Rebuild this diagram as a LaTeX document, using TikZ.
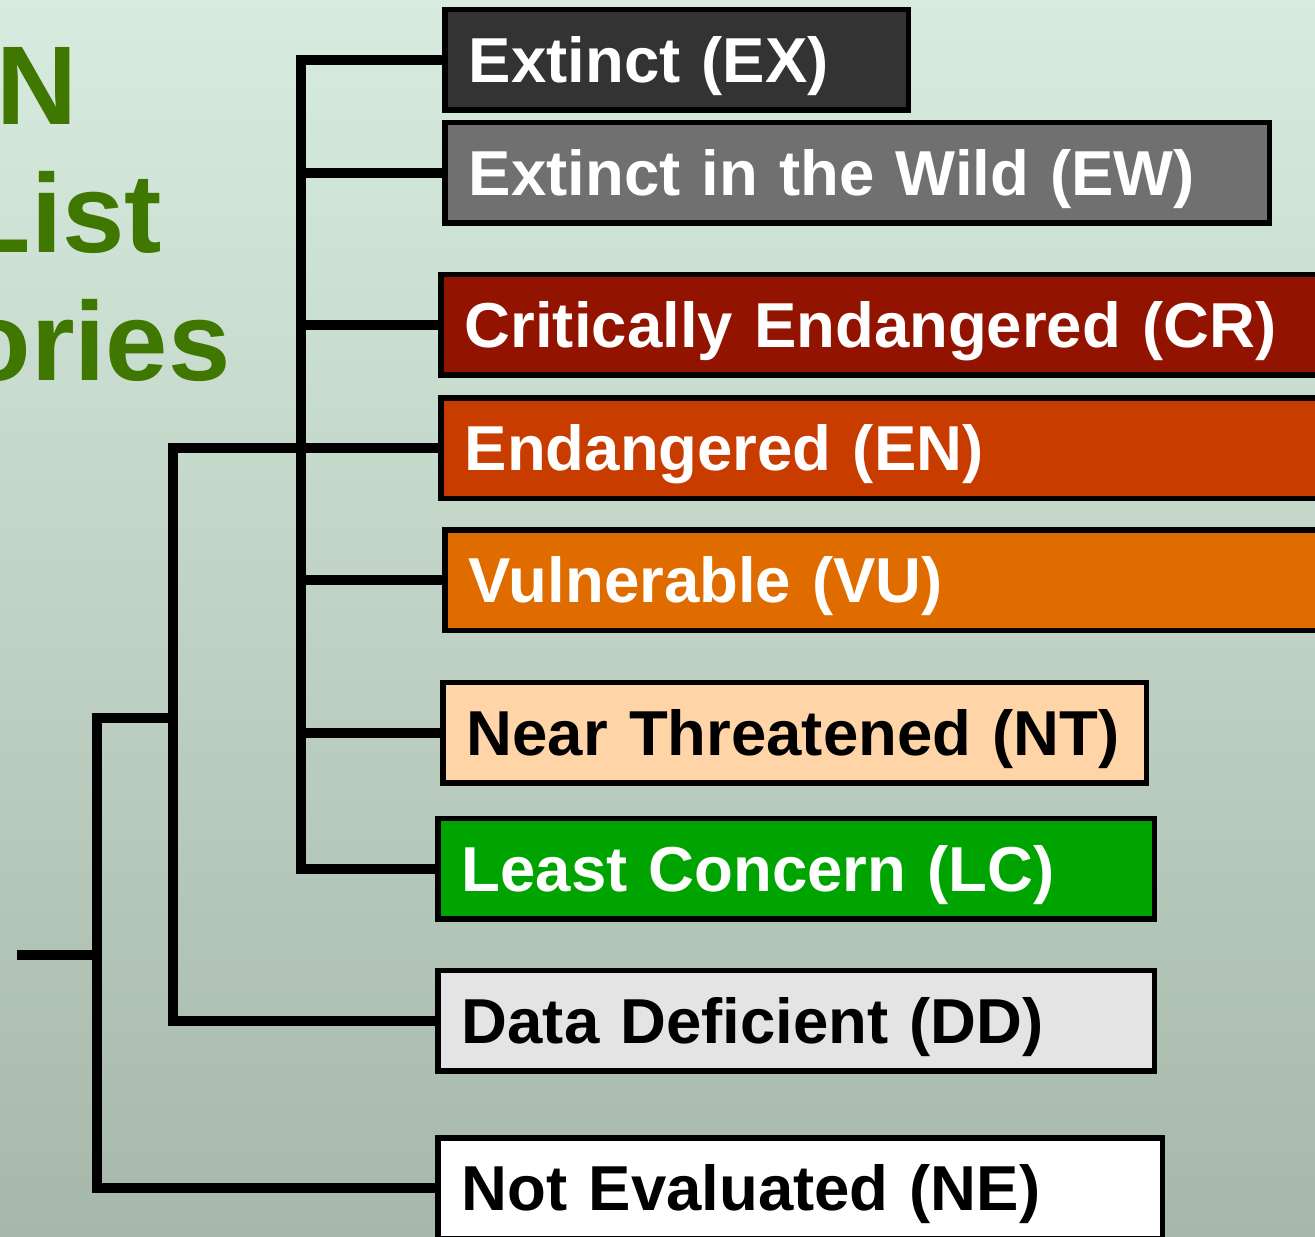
\documentclass[tikz,border=0pt]{standalone}
\usepackage{fontspec}
\setmainfont{Liberation Sans}
\usetikzlibrary{positioning}
\definecolor{bgtop}{HTML}{D7ECDF}
\definecolor{bgbottom}{HTML}{A7B8AA}
\definecolor{titlegreen}{HTML}{3F7700}
\definecolor{exfill}{HTML}{333333}
\definecolor{ewfill}{HTML}{707070}
\definecolor{crfill}{HTML}{921400}
\definecolor{enfill}{HTML}{C83C00}
\definecolor{vufill}{HTML}{E06C00}
\definecolor{ntfill}{HTML}{FFD5A8}
\definecolor{lcfill}{HTML}{00A400}
\definecolor{ddfill}{HTML}{E4E4E4}
\definecolor{nefill}{HTML}{FFFFFF}
\begin{document}
\begin{tikzpicture}[x=0.5pt, y=-0.5pt,
		cat/.style = {draw, line width=2.75pt, anchor=west, outer sep=0pt, inner xsep=12pt, inner ysep=0pt,
			minimum height=50.25pt, align=left, text height=22.7pt, text depth=0pt,
			font=\fontsize{31.75}{36}\selectfont\bfseries},
		title/.style = {anchor=base, inner sep=0pt, text=titlegreen, font=\fontsize{56}{64}\selectfont\bfseries},
		branch/.style = {draw, line width=5pt}]
	\useasboundingbox (0,0) rectangle (1315,1236);
	\clip (0,0) rectangle (1315,1236);
	\shade[top color=bgtop, bottom color=bgbottom] (0,0) rectangle (1315,1236);

	% title, cut by the left edge
	\node[title] (title1) at (-59,125) {IUCN};
	\node[title] (title2) at (-59,252) {Red List};
	\node[title] (title3) at (-59,380) {Categories};

	% categories
	\node[cat, fill=exfill, text=white, text width=207.75pt] (ex) at (444.75,60) {Extinct (EX)};
	\node[cat, fill=ewfill, text=white, text width=388.25pt] (ew) at (444.75,172.5) {Extinct in the Wild (EW)};
	\node[cat, fill=crfill, text=white, text width=476pt] (cr) at (440.75,324.5) {Critically Endangered (CR)};
	\node[cat, fill=enfill, text=white, text width=476pt] (en) at (440.75,448) {Endangered (EN)};
	\node[cat, fill=vufill, text=white, text width=476pt] (vu) at (444.75,580) {Vulnerable (VU)};
	\node[cat, fill=ntfill, text=black, text width=327.75pt] (nt) at (442.75,732.5) {Near Threatened (NT)};
	\node[cat, fill=lcfill, text=white, text width=334.25pt] (lc) at (437.75,868.5) {Least Concern (LC)};
	\node[cat, fill=ddfill, text=black, text width=334.25pt] (dd) at (437.75,1020.5) {Data Deficient (DD)};
	\node[cat, fill=nefill, text=black, text width=338.25pt] (ne) at (437.75,1188) {Not Evaluated (NE)};

	% tree
	\coordinate (thr) at (300.5,0);
	\coordinate (sub) at (172.5,0);
	\coordinate (subjoin) at (172.5,718);
	\coordinate (rt) at (97,955);
	\coordinate (stub) at (17,955);

	\draw[branch] (ex.west) -| (thr |- lc.west) -- (lc.west);
	\draw[branch] (ew.west) -- (thr |- ew.west);
	\draw[branch] (cr.west) -- (thr |- cr.west);
	\draw[branch] (vu.west) -- (thr |- vu.west);
	\draw[branch] (nt.west) -- (thr |- nt.west);
	\draw[branch] (en.west) -| (sub |- dd.west) -- (dd.west);
	\draw[branch] (subjoin) -| (rt) |- (ne.west);
	\draw[branch] (stub) -- (rt);
\end{tikzpicture}
\end{document}
